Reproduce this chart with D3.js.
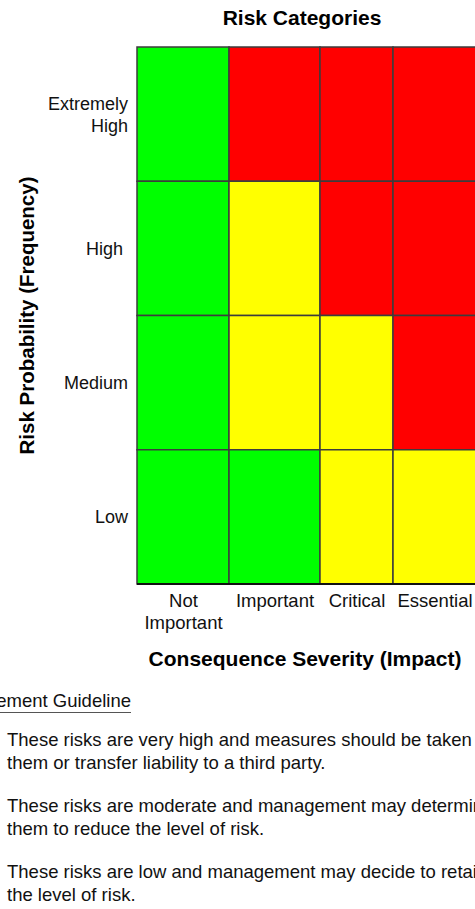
<!DOCTYPE html>
<html>
<head>
<meta charset="utf-8">
<script src="https://cdn.jsdelivr.net/npm/d3@7"></script>
<style>
  body { margin: 0; background: #fff; }
  svg { display: block; font-family: "Liberation Sans", Arial, sans-serif; }
</style>
</head>
<body>
<svg class="chart"></svg>
<script>
// severity columns (x) and probability rows (y)
const severity = ["Not Important", "Important", "Critical", "Essential"];
const severityLabels = [["Not", "Important"], ["Important"], ["Critical"], ["Essential"]];
const probability = ["Extremely High", "High", "Medium", "Low"];
const probabilityLabels = [["Extremely", "High"], ["High\u00a0"], ["Medium"], ["Low"]];

// risk level of each cell, one row per probability
const extremelyHighRow = ["low", "high", "high", "high"];
const highRow = ["low", "moderate", "high", "high"];
const mediumRow = ["low", "moderate", "moderate", "high"];
const lowRow = ["low", "low", "moderate", "moderate"];
const riskRows = [extremelyHighRow, highRow, mediumRow, lowRow];

const guidelineTitle = "Risk Management Guideline";
const guidelines = [
    ["These risks are very high and measures should be taken to eliminate", "them or transfer liability to a third party."],
    ["These risks are moderate and management may determine to mitigate", "them to reduce the level of risk."],
    ["These risks are low and management may decide to retain or reduce", "the level of risk."]
];

const width = 475, height = 909;
const grid = { left: 137, top: 47, bottom: 584 };
const colEdges = [137, 229, 320, 393, 476];

const svg = d3.select(".chart")
    .attr("width", width)
    .attr("height", height);

const x = d3.scaleLinear()
    .domain(d3.range(severity.length + 1))
    .range(colEdges);

const y = d3.scaleBand()
    .domain(probability)
    .range([grid.top, grid.bottom]);

const color = d3.scaleOrdinal()
    .domain(["low", "moderate", "high"])
    .range(["#00ff00", "#ffff00", "#ff0000"]);

const cells = riskRows.flatMap((row, r) =>
    row.map((level, c) => ({ prob: probability[r], col: c, level })));

svg.append("g")
    .selectAll("rect")
    .data(cells)
    .enter().append("rect")
    .attr("x", d => x(d.col))
    .attr("y", d => y(d.prob))
    .attr("width", d => x(d.col + 1) - x(d.col))
    .attr("height", y.bandwidth())
    .attr("fill", d => color(d.level))
    .attr("stroke", "#3c3c3c")
    .attr("stroke-width", 1.5);

svg.append("line")
    .attr("x1", grid.left).attr("x2", width)
    .attr("y1", grid.bottom).attr("y2", grid.bottom)
    .attr("stroke", "#111").attr("stroke-width", 2);

// y axis labels
const yAxis = svg.append("g")
    .attr("transform", `translate(${grid.left}, 0)`)
    .call(d3.axisLeft(y).tickSize(0).tickPadding(9));
yAxis.select(".domain").remove();
yAxis.selectAll(".tick text")
    .attr("font-size", 18)
    .attr("font-family", "Liberation Sans, Arial, sans-serif")
    .attr("fill", "#111")
    .attr("dy", null)
    .text(null)
    .each(function(d, i) {
        const lines = probabilityLabels[i];
        d3.select(this).selectAll("tspan")
            .data(lines)
            .enter().append("tspan")
            .attr("x", -9)
            .attr("y", (l, j) => (j - (lines.length - 1) / 2) * 22 + 6.5)
            .text(l => l);
    });

// x axis labels
const xAxis = svg.append("g")
    .attr("transform", `translate(0, ${grid.bottom})`)
    .call(d3.axisBottom(x)
        .tickValues(severity.map((s, i) => i + 0.5))
        .tickFormat((d, i) => severity[i])
        .tickSize(0));
xAxis.select(".domain").remove();
xAxis.selectAll(".tick text")
    .attr("font-size", 18.5)
    .attr("font-family", "Liberation Sans, Arial, sans-serif")
    .attr("fill", "#111")
    .attr("dy", null)
    .attr("y", null)
    .text(null)
    .each(function(d, i) {
        d3.select(this).selectAll("tspan")
            .data(severityLabels[i])
            .enter().append("tspan")
            .attr("x", 0)
            .attr("y", (l, j) => 23 + j * 22)
            .text(l => l);
    });

// titles
svg.append("text")
    .attr("x", 302).attr("y", 25)
    .attr("text-anchor", "middle")
    .attr("font-size", 21).attr("font-weight", "bold")
    .text("Risk Categories");

svg.append("text")
    .attr("x", 305).attr("y", 666)
    .attr("text-anchor", "middle")
    .attr("font-size", 21).attr("font-weight", "bold")
    .text("Consequence Severity (Impact)");

svg.append("text")
    .attr("transform", `translate(34, ${(grid.top + grid.bottom) / 2}) rotate(-90)`)
    .attr("text-anchor", "middle")
    .attr("font-size", 20.5).attr("font-weight", "bold")
    .text("Risk Probability (Frequency)");

// guideline block
svg.append("text")
    .attr("x", 131).attr("y", 707)
    .attr("text-anchor", "end")
    .attr("font-size", 18.5).attr("fill", "#111")
    .text(guidelineTitle);
svg.append("line")
    .attr("x1", -200).attr("x2", 131)
    .attr("y1", 712.5).attr("y2", 712.5)
    .attr("stroke", "#555").attr("stroke-width", 1.2);

const para = svg.append("g").selectAll("text")
    .data(guidelines)
    .enter().append("text")
    .attr("font-size", 18.5).attr("fill", "#111");
para.selectAll("tspan")
    .data((d, i) => d.map((line, j) => ({ line, i, j })))
    .enter().append("tspan")
    .attr("x", 7)
    .attr("y", d => 746 + d.i * 66 + d.j * 23)
    .text(d => d.line);
</script>
</body>
</html>
